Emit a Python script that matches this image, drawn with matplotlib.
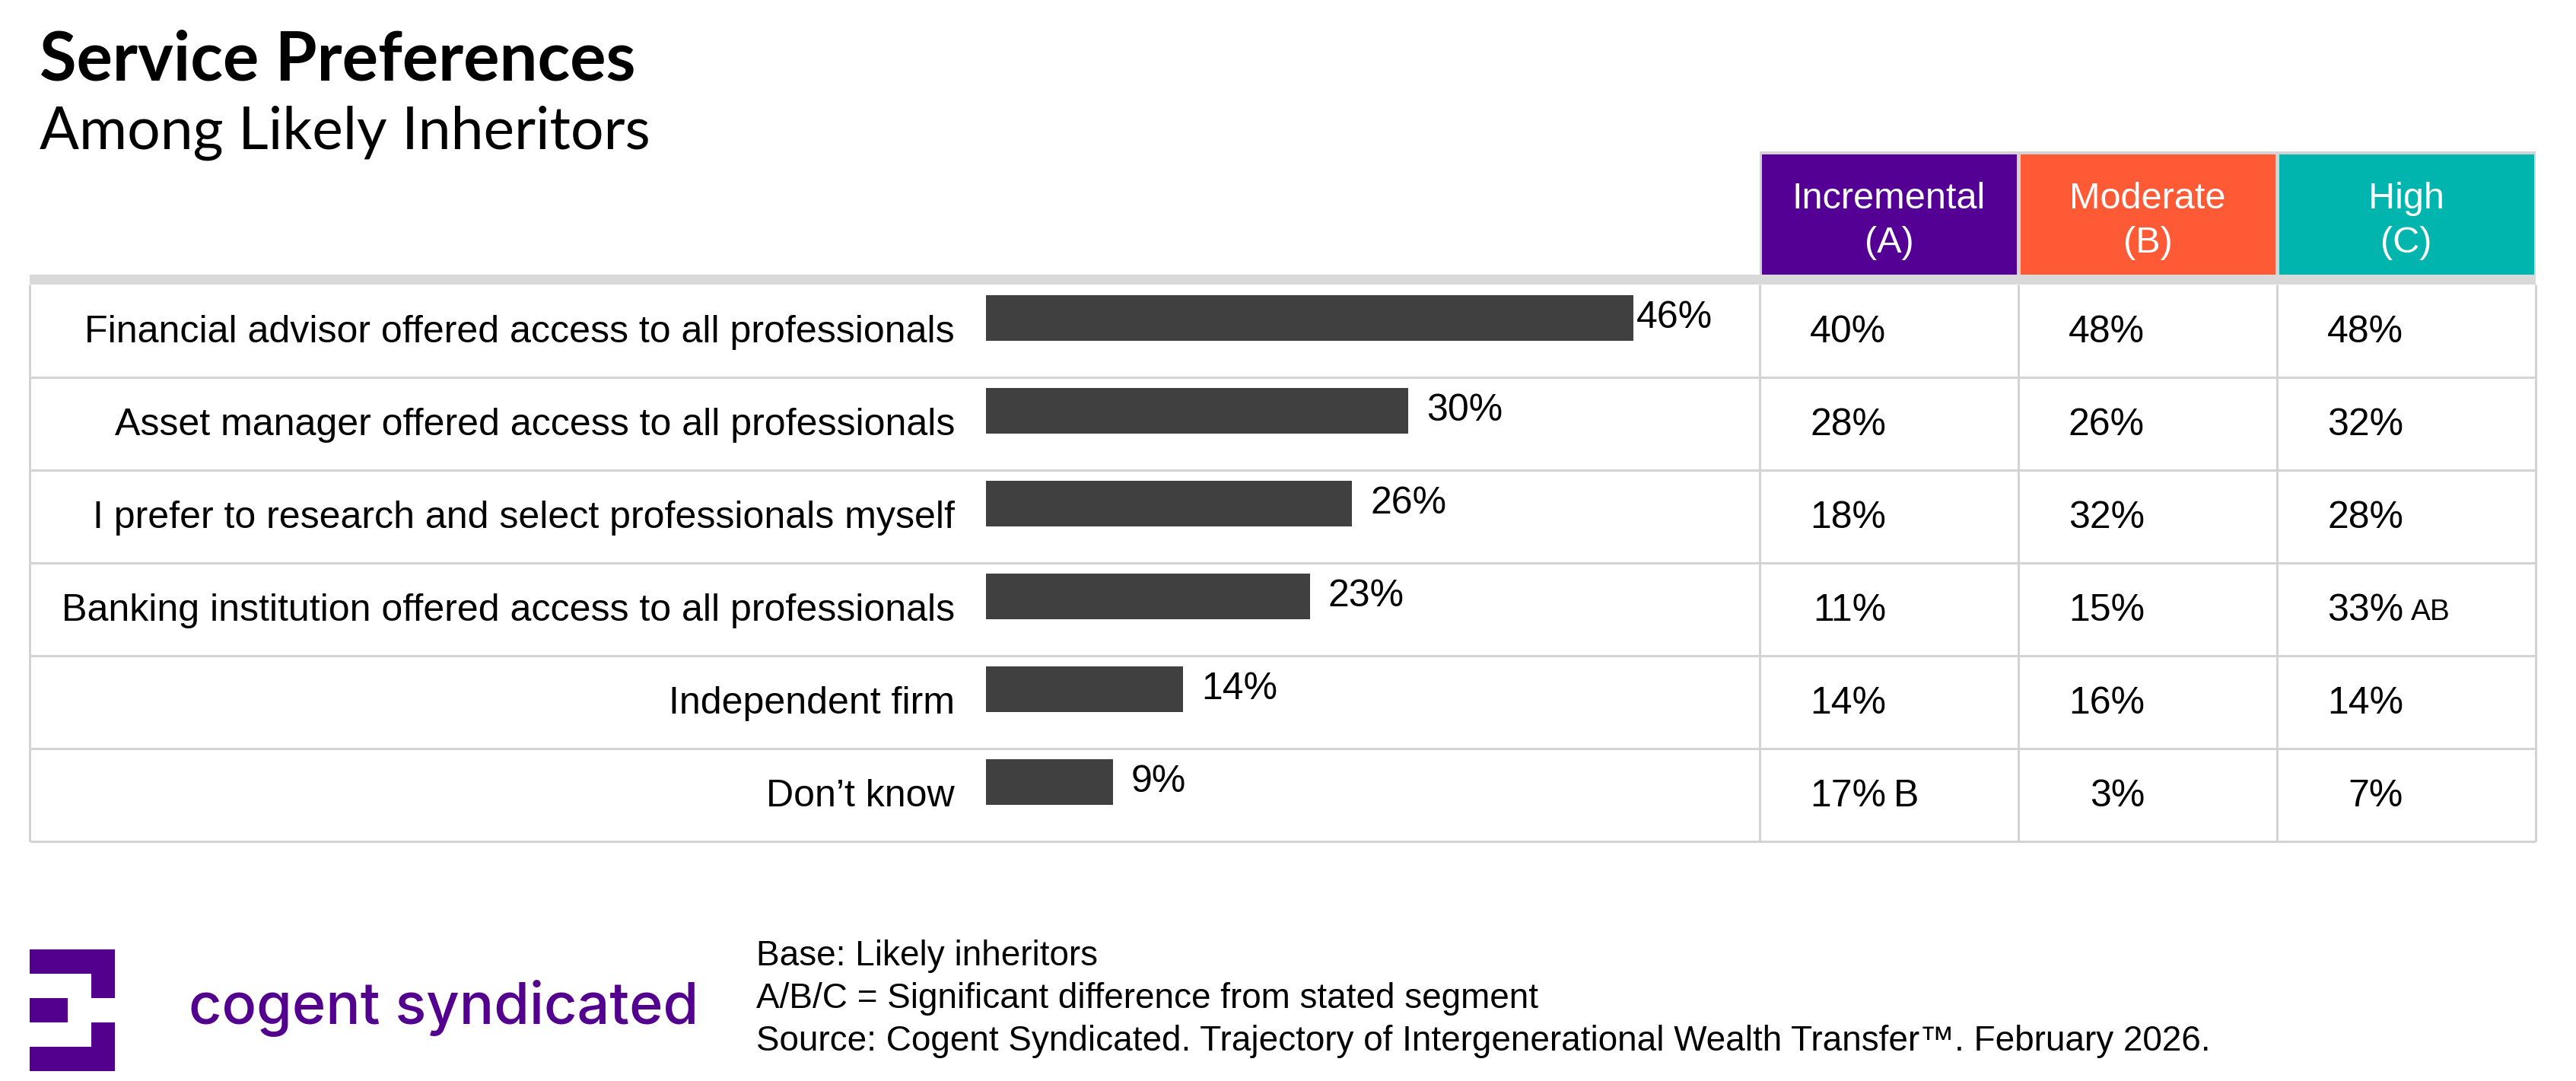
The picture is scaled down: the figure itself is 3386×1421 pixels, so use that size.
import matplotlib
matplotlib.use("Agg")
import matplotlib.pyplot as plt
from matplotlib.patches import Rectangle

# ---------------- data ----------------
categories = [
    "Financial advisor offered access to all professionals",
    "Asset manager offered access to all professionals",
    "I prefer to research and select professionals myself",
    "Banking institution offered access to all professionals",
    "Independent firm",
    "Don\u2019t know",
]
overall = [46, 30, 26, 23, 14, 9]

segment_names = ["Incremental", "Moderate", "High"]
segment_codes = ["(A)", "(B)", "(C)"]
incremental = [40, 28, 18, 11, 14, 17]
moderate = [48, 26, 32, 15, 16, 3]
high = [48, 32, 28, 33, 14, 7]
sig_incremental = ["", "", "", "", "", "B"]
sig_moderate = ["", "", "", "", "", ""]
sig_high = ["", "", "", "AB", "", ""]

title = "Service Preferences"
subtitle = "Among Likely Inheritors"
footnotes = [
    "Base: Likely inheritors",
    "A/B/C = Significant difference from stated segment",
    "Source: Cogent Syndicated. Trajectory of Intergenerational Wealth Transfer\u2122. February 2026.",
]
brand = "cogent syndicated"

# ---------------- style ----------------
W, H = 3387, 1421
DPI = 100
seg_colors = ["#540094", "#FF5A36", "#00B5AD"]
bar_color = "#404040"
grid_color = "#D3D3D3"
band_color = "#D9D9D9"
brand_color = "#54008F"
body_font = "Liberation Sans"

fig = plt.figure(figsize=(W / DPI, H / DPI), dpi=DPI)
fig.patch.set_facecolor("white")
ax = fig.add_axes([0, 0, 1, 1])
ax.set_xlim(0, W)
ax.set_ylim(H, 0)
ax.axis("off")

renderer = fig.canvas.get_renderer()


def fit_text(x, y, s, target_w, **kw):
    t = ax.text(x, y, s, fontsize=50, **kw)
    bb = t.get_window_extent(renderer=renderer)
    t.set_fontsize(50 * target_w / bb.width)
    return t


# ---------------- title ----------------
fit_text(52, 106, title, 786, family="Lato", fontweight="bold",
         va="baseline", ha="left", color="black")
fit_text(52, 196, subtitle, 803, family="Lato", fontweight="normal",
         va="baseline", ha="left", color="black")

# ---------------- table geometry ----------------
x_left = 39
col_lefts = [2313, 2653, 2993]
col_w = 340
x_right = col_lefts[-1] + col_w
row_top = 374
row_h = 122
n = len(categories)
row_bottom = row_top + n * row_h
lw_px = 3
lw = lw_px * 72 / DPI

# header cells
hdr_top, hdr_bot = 199, 361
ax.add_patch(Rectangle((col_lefts[0], hdr_top), x_right - col_lefts[0], hdr_bot - hdr_top,
                       facecolor=grid_color, edgecolor="none", zorder=1))
for i, (name, code) in enumerate(zip(segment_names, segment_codes)):
    cx0 = col_lefts[i]
    ax.add_patch(Rectangle((cx0 + 3, hdr_top + 4), col_w - 5, hdr_bot - hdr_top - 4,
                           facecolor=seg_colors[i], edgecolor="none", zorder=2))
    ax.text(cx0 + col_w / 2, 261, name, ha="center", va="center", color="white",
            fontsize=35, family=body_font, zorder=3)
    ax.text(cx0 + col_w / 2, 320, code, ha="center", va="center", color="white",
            fontsize=35, family=body_font, zorder=3)

# gray band
ax.add_patch(Rectangle((x_left, 361), x_right - x_left, row_top - 361,
                       facecolor=band_color, edgecolor="none", zorder=2))

# grid lines
for r in range(1, n + 1):
    y = row_top + r * row_h
    ax.plot([x_left, x_right], [y, y], color=grid_color, lw=lw, zorder=1,
            solid_capstyle="butt")
for x in [x_left] + col_lefts + [x_right]:
    ax.plot([x, x], [row_top, row_bottom], color=grid_color, lw=lw, zorder=1,
            solid_capstyle="butt")

# row labels and segment values
seg_values = [incremental, moderate, high]
seg_sigs = [sig_incremental, sig_moderate, sig_high]
for r, cat in enumerate(categories):
    yc = row_top + (r + 0.5) * row_h + 2
    ax.text(1255, yc, cat, ha="right", va="center", fontsize=36.1,
            family=body_font, color="black")
    for c in range(3):
        xr = col_lefts[c] + 166
        ax.text(xr, yc, f"{seg_values[c][r]}%", ha="right", va="center",
                fontsize=36, family=body_font, color="black")
        sig = seg_sigs[c][r]
        if sig:
            fs = 36 if len(sig) == 1 else 28
            ax.text(xr + 10, yc + (0 if len(sig) == 1 else 2), sig, ha="left", va="center",
                    fontsize=fs, family=body_font, color="black")

# ---------------- bars ----------------
bar_x0 = 1296
px_per_pct = 18.5
bax = fig.add_axes([bar_x0 / W, 1 - row_bottom / H,
                    (col_lefts[0] - bar_x0) / W, (row_bottom - row_top) / H])
bax.set_xlim(0, (col_lefts[0] - bar_x0) / px_per_pct)
bax.set_ylim(n - 0.5, -0.5)
bax.axis("off")
bax.patch.set_alpha(0)
ypos = [i - 0.14 for i in range(n)]
bax.barh(ypos, overall, height=0.49, left=0, color=bar_color)
for yv, v in zip(ypos, overall):
    gap = 0.2 if v == max(overall) else 1.3
    bax.text(v + gap, yv, f"{v}%", ha="left", va="center", fontsize=36,
             family=body_font, color="black")

# ---------------- footnotes ----------------
for i, s in enumerate(footnotes):
    ax.text(994, 1257 + i * 56, s, ha="left", va="center", fontsize=33,
            family=body_font, color="black")

# ---------------- logo ----------------
lx, ly, lw_, lh = 39, 1248, 112, 160
pieces = [
    (0.0, 0.0, 1.0, 0.2),
    (0.72, 0.0, 0.28, 0.4),
    (0.0, 0.4, 0.446, 0.2),
    (0.72, 0.6, 0.28, 0.4),
    (0.0, 0.8, 1.0, 0.2),
]
for (px, py, pw, ph) in pieces:
    ax.add_patch(Rectangle((lx + px * lw_, ly + py * lh), pw * lw_, ph * lh,
                           facecolor=brand_color, edgecolor="none"))
fit_text(248, 1346, brand, 670, family="Inter", fontweight="medium",
         va="baseline", ha="left", color=brand_color)

fig.savefig("out.png", dpi=DPI, facecolor="white")
